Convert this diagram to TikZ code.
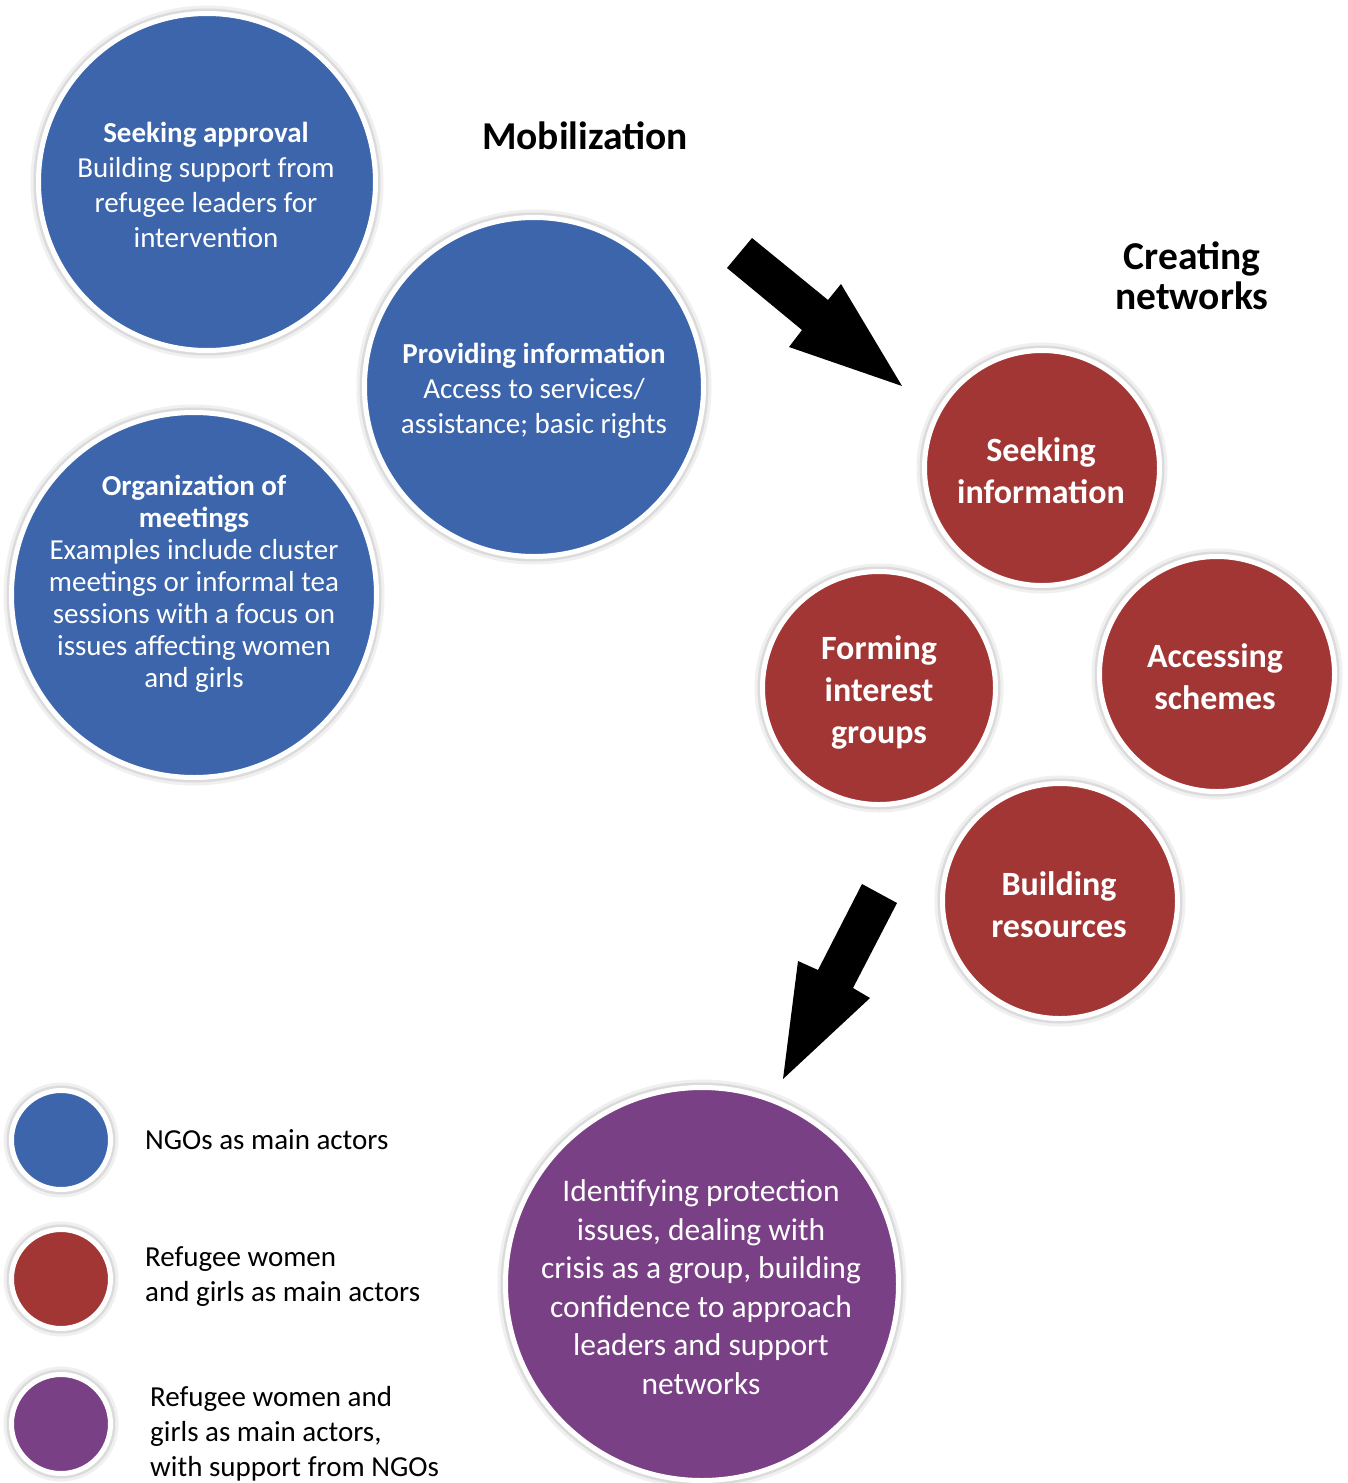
\documentclass[tikz,border=0pt]{standalone}
\usepackage{fontspec}
\setmainfont{Carlito}
\definecolor{ngoblue}{RGB}{60,101,172}
\definecolor{refred}{RGB}{162,54,52}
\definecolor{refpurple}{RGB}{122,64,133}
\tikzset{
  ball/.style={circle, inner sep=0pt, outer sep=0pt, minimum size=#1,
    draw=white, line width=5pt,
    preaction={draw=black!6, line width=16pt},
    preaction={draw=black!14, line width=10pt}},
  ngo/.style={ball=#1, fill=ngoblue},
  ref/.style={ball=#1, fill=refred},
  mix/.style={ball=#1, fill=refpurple},
  intxt/.style={text=white, align=center, inner sep=0pt},
  nfont/.style={font=\fontsize{29}{35}\selectfont},
  rfont/.style={font=\bfseries\fontsize{34}{42}\selectfont},
  legtxt/.style={anchor=west, align=left, inner sep=0pt, font=\fontsize{29}{35}\selectfont},
  head/.style={align=center, inner sep=0pt, font=\bfseries\fontsize{39.5}{40}\selectfont},
  blockarrow/.style={fill=black, draw=none}
}
\begin{document}
\begin{tikzpicture}[x=1pt,y=-1pt]
\useasboundingbox (0,0) rectangle (1347,1483);
\fill[white] (0,0) rectangle (1347,1483);

% blue circles
\node[ngo=337pt] (approval) at (207,182) {};
\node[intxt, nfont] (approvalt) at (206,185) {\textbf{Seeking approval}\\Building support from\\refugee leaders for\\intervention};

\node[ngo=365pt] (org) at (194,595) {};
\node[intxt, font=\fontsize{29}{32}\selectfont] (orgt) at (194,584) {\textbf{Organization of}\\\textbf{meetings}\\Examples include cluster\\meetings or informal tea\\sessions with a focus on\\issues affecting women\\and girls};

\node[ngo=339pt] (prov) at (534,387) {};
\node[intxt, nfont] (provt) at (534,391) {\textbf{Providing information}\\Access to services/\\assistance; basic rights};

% headings
\node[head] (mob) at (585,136) {Mobilization};
\node[head] (cnet) at (1192,276) {Creating\\networks};

% red circles
\node[ref=235pt] (seek) at (1042,468) {};
\node[intxt, rfont] (seekt) at (1041,471) {Seeking\\information};
\node[ref=233pt] (form) at (879,688) {};
\node[intxt, rfont] (formt) at (879,692) {Forming\\interest\\groups};
\node[ref=235pt] (acc) at (1217,674) {};
\node[intxt, rfont] (acct) at (1215,677) {Accessing\\schemes};
\node[ref=235pt] (build) at (1060,901) {};
\node[intxt, rfont] (buildt) at (1059,905) {Building\\resources};

% purple circle
\node[mix=393pt] (ident) at (702,1284) {};
\node[intxt, font=\fontsize{31.5}{38.5}\selectfont] (identt) at (701,1287) {Identifying protection\\issues, dealing with\\crisis as a group, building\\confidence to approach\\leaders and support\\networks};

% block arrows
\coordinate (a1) at (752,238);
\fill[blockarrow] (a1) -- (828,300) -- (841,284) -- (902,386) -- (789,347) -- (802,330) -- (727,268) -- cycle;
\coordinate (a2) at (862,884);
\fill[blockarrow] (a2) -- (897,903) -- (853,988) -- (870,998) -- (783,1079) -- (798,961) -- (818,970) -- cycle;

% legend
\node[ngo=99pt] (lg1) at (61,1140) {};
\node[legtxt] (lg1t) at (145,1140) {NGOs as main actors};
\node[ref=99pt] (lg2) at (61,1279) {};
\node[legtxt] (lg2t) at (145,1277) {Refugee women\\and girls as main actors};
\node[mix=99pt] (lg3) at (61,1424) {};
\node[legtxt] (lg3t) at (150,1434) {Refugee women and\\girls as main actors,\\with support from NGOs};
\end{tikzpicture}
\end{document}
